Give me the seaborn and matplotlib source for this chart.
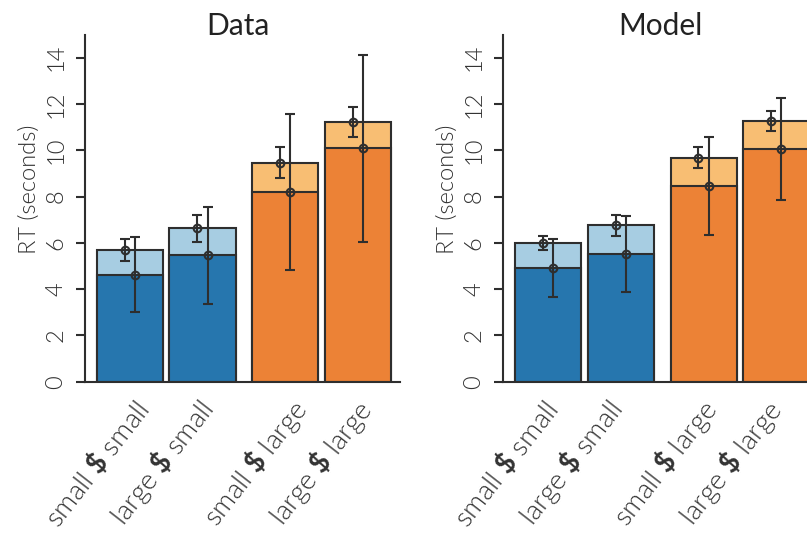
import numpy as np
import pandas as pd
import matplotlib
matplotlib.use("Agg")
import matplotlib.pyplot as plt
import matplotlib.transforms as mtransforms
import seaborn as sns

# ---------------- data ----------------
conditions = ["small $ small", "large $ small", "small $ large", "large $ large"]
tick_labels = [r"small $\mathbf{\$}$ small", r"large $\mathbf{\$}$ small",
               r"small $\mathbf{\$}$ large", r"large $\mathbf{\$}$ large"]
panels = ["Data", "Model"]

data_light = [5.69, 6.63, 9.46, 11.24]
data_light_lo = [5.20, 6.05, 8.79, 10.57]
data_light_hi = [6.18, 7.22, 10.14, 11.86]
data_dark = [4.62, 5.46, 8.20, 10.08]
data_dark_lo = [3.01, 3.36, 4.83, 6.04]
data_dark_hi = [6.24, 7.56, 11.57, 14.12]

model_light = [5.98, 6.76, 9.68, 11.25]
model_light_lo = [5.68, 6.31, 9.24, 10.82]
model_light_hi = [6.28, 7.20, 10.14, 11.70]
model_dark = [4.90, 5.52, 8.46, 10.06]
model_dark_lo = [3.65, 3.88, 6.33, 7.87]
model_dark_hi = [6.17, 7.15, 10.57, 12.25]

y_ticks = [0, 2, 4, 6, 8, 10, 12, 14]

# ---------------- style ----------------
sns.set_style("ticks")
FONT = "Lato"
plt.rcParams["font.family"] = [FONT, "DejaVu Sans"]
plt.rcParams["mathtext.fontset"] = "custom"
plt.rcParams["mathtext.rm"] = FONT + ":weight=300"
plt.rcParams["mathtext.bf"] = FONT + ":bold"

dark_colors = ["#2676ae", "#2676ae", "#ec8236", "#ec8236"]
light_colors = ["#a7cde2", "#a7cde2", "#f8be73", "#f8be73"]
edge = "#2e2e2e"
text_c = "#333333"
LIGHT = 300

positions = [0.0, 1.0, 2.137, 3.137]
bar_w = 0.907
err_off = 0.07

# layout: pixel x where each rotated tick label ends (top-right), per panel
label_end_x = [[153, 218, 312, 377], [562, 627, 722, 787]]
label_top_y = 394
title_x = [0.484, 0.5]

W, H = 807, 534
fig = plt.figure(figsize=(W / 100, H / 100), dpi=100)
ax_w = 315 / W
ax_b = (H - 381.7) / H
ax_h = (381.7 - 34.6) / H
axes = [fig.add_axes([85 / W, ax_b, ax_w, ax_h]),
        fig.add_axes([503.3 / W, ax_b, ax_w, ax_h])]

sets = [
    (data_light, data_light_lo, data_light_hi, data_dark, data_dark_lo, data_dark_hi),
    (model_light, model_light_lo, model_light_hi, model_dark, model_dark_lo, model_dark_hi),
]

for ax, title, tx, (lt, ltl, lth, dk, dkl, dkh) in zip(axes, panels, title_x, sets):
    df = pd.DataFrame({"pos": positions, "cond": conditions, "light": lt, "dark": dk})
    sns.barplot(data=df, x="pos", y="light", hue="cond", palette=light_colors,
                native_scale=True, dodge=False, width=bar_w, edgecolor=edge,
                linewidth=1.5, legend=False, errorbar=None, saturation=1, ax=ax)
    sns.barplot(data=df, x="pos", y="dark", hue="cond", palette=dark_colors,
                native_scale=True, dodge=False, width=bar_w, edgecolor=edge,
                linewidth=1.5, legend=False, errorbar=None, saturation=1, ax=ax)
    lt_a, dk_a = np.array(lt), np.array(dk)
    ax.errorbar(np.array(positions) - err_off, lt_a,
                yerr=[lt_a - np.array(ltl), np.array(lth) - lt_a],
                fmt="o", mfc="none", mec=edge, ms=5.5, mew=1.5, ecolor=edge,
                elinewidth=1.5, capsize=3.6, capthick=1.5, zorder=5)
    ax.errorbar(np.array(positions) + err_off, dk_a,
                yerr=[dk_a - np.array(dkl), np.array(dkh) - dk_a],
                fmt="o", mfc="none", mec=edge, ms=5.5, mew=1.5, ecolor=edge,
                elinewidth=1.5, capsize=3.6, capthick=1.5, zorder=5)

    ax.set_xlim(-0.614, 3.713)
    ax.set_ylim(0, 15)
    ax.set_yticks(y_ticks)
    ax.set_yticklabels([str(t) for t in y_ticks], rotation=90, va="center",
                       fontsize=17, fontweight=LIGHT, color=text_c)
    ax.tick_params(axis="y", length=6.5, width=1.5, color=edge, pad=7)
    ax.set_xticks(positions)
    ax.set_xticklabels(tick_labels, rotation=52, ha="right", va="center",
                       rotation_mode="anchor", fontsize=20, fontweight=LIGHT,
                       color=text_c)
    ax.tick_params(axis="x", length=0, pad=4)
    ax.set_xlabel("")
    ax.set_ylabel("RT (seconds)", fontsize=17, fontweight=LIGHT, color=text_c)
    ax.yaxis.set_label_coords(-0.143, 0.555)
    ax.set_title(title, fontsize=21.5, color="#222222", x=tx, y=0.998, pad=0)
    sns.despine(ax=ax)
    for s in ["left", "bottom"]:
        ax.spines[s].set_linewidth(1.5)
        ax.spines[s].set_color(edge)

# place rotated tick labels so that their ends sit where the reference has them
fig.canvas.draw()
renderer = fig.canvas.get_renderer()
for ax, ends in zip(axes, label_end_x):
    for lbl, ex in zip(ax.get_xticklabels(), ends):
        bb = lbl.get_window_extent(renderer)
        dx = (ex + 2) - bb.x1
        dy = (H - label_top_y) - bb.y1
        lbl.set_transform(lbl.get_transform() +
                          mtransforms.ScaledTranslation(dx / 100, dy / 100,
                                                        fig.dpi_scale_trans))

fig.savefig("out.png", dpi=100)
